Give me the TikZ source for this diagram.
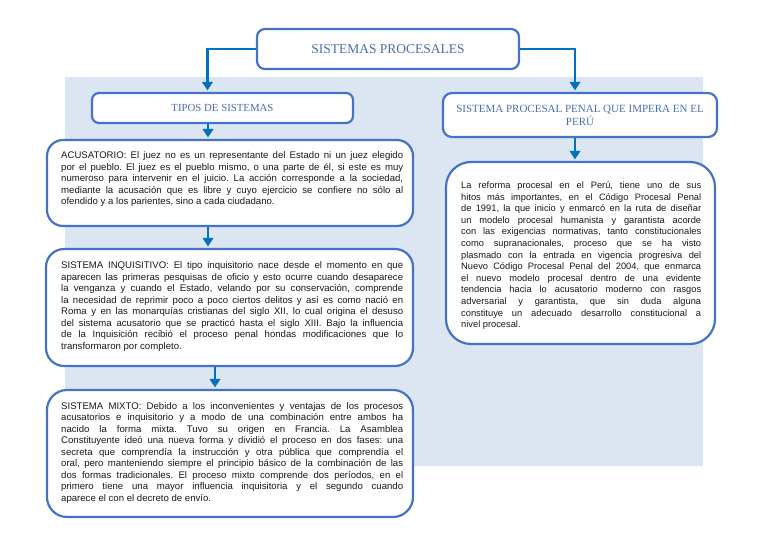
\documentclass[tikz,border=0pt]{standalone}
\usepackage{fontspec}
\setmainfont{Liberation Sans}
\newfontfamily\titlefont{Liberation Serif}
\usetikzlibrary{arrows.meta}
\definecolor{bx}{HTML}{4472C4}
\definecolor{ar}{HTML}{0070C0}
\definecolor{bgc}{HTML}{DCE6F2}
\definecolor{tt}{HTML}{4A6FB5}
\tolerance=10000
\hyphenpenalty=10000
\frenchspacing
\begin{document}
\begin{tikzpicture}[x=1pt,y=-1pt,
  box/.style={draw=bx, line width=2.2pt, fill=white, inner sep=0pt},
  conn/.style={draw=ar, line width=2.6pt, -{Triangle[width=10.5pt,length=8.5pt]}, shorten >=1.5pt},
  title/.style={font=\titlefont\fontsize{#1}{13}\selectfont, text=tt, align=center},
  body/.style={font=\fontsize{9.6}{11.5}\selectfont\frenchspacing, text=black!90, align=justify, anchor=north west, inner sep=0pt, text width=#1}]
\useasboundingbox (0,0) rectangle (768,543);
\fill[bgc] (65,77) rectangle (703,466);

% title boxes
\node[box, rounded corners=8pt, minimum width=262pt, minimum height=40pt, title=13.5] (top) at (388,49) {SISTEMAS PROCESALES};
\node[box, rounded corners=7pt, minimum width=261pt, minimum height=30pt, title=10.8] (tipos) at (222.5,108) {TIPOS DE SISTEMAS};
\node[box, rounded corners=9pt, minimum width=274pt, minimum height=44pt, title=11] (spp) at (580,115) {SISTEMA PROCESAL PENAL QUE IMPERA EN EL\\PERÚ};

% content boxes
\node[box, rounded corners=16pt, minimum width=366pt, minimum height=86pt] (acu) at (230,183) {};
\node[box, rounded corners=18pt, minimum width=367pt, minimum height=117pt] (inq) at (229.5,307.5) {};
\node[box, rounded corners=20pt, minimum width=366pt, minimum height=127pt] (mix) at (230,453.5) {};
\node[box, rounded corners=25pt, minimum width=269pt, minimum height=182pt] (per) at (580.5,253) {};

% texts
\node[body=342pt] (acut) at (61,151.5) {ACUSATORIO: El juez no es un representante del Estado ni un juez elegido\linebreak
por el pueblo. El juez es el pueblo mismo, o una parte de él, si este es muy\linebreak
numeroso para intervenir en el juicio. La acción corresponde a la sociedad,\linebreak
mediante la acusación que es libre y cuyo ejercicio se confiere no sólo al\linebreak
ofendido y a los parientes, sino a cada ciudadano.};

\node[body=342pt] (inqt) at (61,261.5) {SISTEMA INQUISITIVO: El tipo inquisitorio nace desde el momento en que\linebreak
aparecen las primeras pesquisas de oficio y esto ocurre cuando desaparece\linebreak
la venganza y cuando el Estado, velando por su conservación, comprende\linebreak
la necesidad de reprimir poco a poco ciertos delitos y así es como nació en\linebreak
Roma y en las monarquías cristianas del siglo XII, lo cual origina el desuso\linebreak
del sistema acusatorio que se practicó hasta el siglo XIII. Bajo la influencia\linebreak
de la Inquisición recibió el proceso penal hondas modificaciones que lo\linebreak
transformaron por completo.};

\node[body=342pt] (mixt) at (61,402) {SISTEMA MIXTO: Debido a los inconvenientes y ventajas de los procesos\linebreak
acusatorios e inquisitorio y a modo de una combinación entre ambos ha\linebreak
nacido la forma mixta. Tuvo su origen en Francia. La Asamblea\linebreak
Constituyente ideó una nueva forma y dividió el proceso en dos fases: una\linebreak
secreta que comprendía la instrucción y otra pública que comprendía el\linebreak
oral, pero manteniendo siempre el principio básico de la combinación de las\linebreak
dos formas tradicionales. El proceso mixto comprende dos períodos, en el\linebreak
primero tiene una mayor influencia inquisitoria y el segundo cuando\linebreak
aparece el con el decreto de envío.};

\node[body=240pt, font=\fontsize{9.3}{11.6}\selectfont] (pert) at (461,181.5) {La reforma procesal en el Perú, tiene uno de sus\linebreak
hitos más importantes, en el Código Procesal Penal\linebreak
de 1991, la que inicio y enmarcó en la ruta de diseñar\linebreak
un modelo procesal humanista y garantista acorde\linebreak
con las exigencias normativas, tanto constitucionales\linebreak
como supranacionales, proceso que se ha visto\linebreak
plasmado con la entrada en vigencia progresiva del\linebreak
Nuevo Código Procesal Penal del 2004, que enmarca\linebreak
el nuevo modelo procesal dentro de una evidente\linebreak
tendencia hacia lo acusatorio moderno con rasgos\linebreak
adversarial y garantista, que sin duda alguna\linebreak
constituye un adecuado desarrollo constitucional a\linebreak
nivel procesal.};

% connectors
\draw[conn] (top.west) -| ([xshift=-15pt]tipos.north);
\draw[conn] (top.east) -| ([xshift=-5pt]spp.north);
\draw[conn] ([xshift=-14.5pt]tipos.south) -- ([xshift=-14.5pt]tipos.south |- acu.north);
\draw[conn] ([xshift=-22pt]acu.south) -- ([xshift=-22pt]acu.south |- inq.north);
\draw[conn] ([xshift=-14.5pt]inq.south) -- ([xshift=-14.5pt]inq.south |- mix.north);
\draw[conn] ([xshift=-5pt]spp.south) -- ([xshift=-5pt]spp.south |- per.north);
\end{tikzpicture}
\end{document}
